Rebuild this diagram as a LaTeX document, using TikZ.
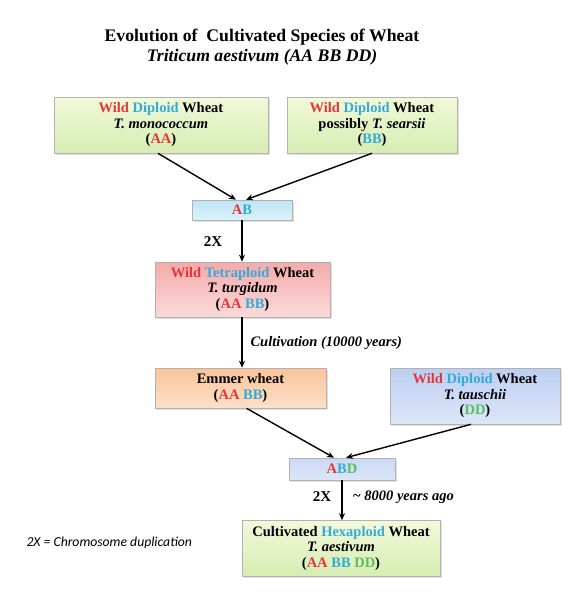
\documentclass[tikz,border=0pt]{standalone}
\usepackage{fontspec}
\setmainfont{Liberation Serif}
\newfontfamily\notefont{Carlito}
\usepackage{tikz}
\usetikzlibrary{arrows.meta,positioning,shadows}

\definecolor{wred}{HTML}{E4373B}
\definecolor{wblue}{HTML}{36AAD6}
\definecolor{wgreen}{HTML}{5CBE5C}
\definecolor{greentop}{HTML}{F2F9DA}
\definecolor{greenbot}{HTML}{D6EDB2}
\definecolor{pinktop}{HTML}{F4AAAA}
\definecolor{pinkbot}{HTML}{FBDADA}
\definecolor{orangetop}{HTML}{F8C49A}
\definecolor{orangebot}{HTML}{FCE0C8}
\definecolor{bluetop}{HTML}{BCCFF2}
\definecolor{bluebot}{HTML}{DCE6F8}
\definecolor{skytop}{HTML}{BCE6F6}
\definecolor{skybot}{HTML}{DDF2FA}
\newcommand{\rd}[1]{\textcolor{wred}{#1}}
\newcommand{\bl}[1]{\textcolor{wblue}{#1}}
\newcommand{\gn}[1]{\textcolor{wgreen}{#1}}

\tikzset{
  wheatbox/.style={draw=black!30, line width=0.6pt, align=center, inner sep=0pt,
    font=\fontsize{14.5}{15.5}\selectfont\bfseries,
    drop shadow={shadow xshift=1.5pt, shadow yshift=-1.5pt, opacity=0.25}},
  greenbox/.style={wheatbox, top color=greentop, bottom color=greenbot},
  pinkbox/.style={wheatbox, top color=pinktop, bottom color=pinkbot},
  orangebox/.style={wheatbox, top color=orangetop, bottom color=orangebot},
  bluebox/.style={wheatbox, top color=bluetop, bottom color=bluebot},
  skybox/.style={wheatbox, top color=skytop, bottom color=skybot},
  genome/.style={wheatbox, top color=bluetop!80, bottom color=bluebot},
  link/.style={-{Stealth[length=7pt,width=6pt]}, line width=1.4pt},
  tag/.style={font=\fontsize{15}{17}\selectfont\bfseries},
  remark/.style={anchor=west, font=\fontsize{14.5}{17}\selectfont\bfseries\itshape},
}

\begin{document}
\begin{tikzpicture}[x=1pt,y=-1pt]
    \useasboundingbox (0,0) rectangle (577,602);

    % title
    \node[font=\fontsize{17.7}{20}\selectfont\bfseries] (title) at (262,37) {Evolution of \ Cultivated Species of Wheat};
    \node[font=\fontsize{17.7}{20}\selectfont\bfseries\itshape] (subtitle) at (262,57) {Triticum aestivum (AA BB DD)};

    % wild parents
    \node[greenbox, minimum width=214, minimum height=56] (mono) at (161,125)
        {\rd{Wild} \bl{Diploid} Wheat\\ \textit{T. monococcum}\\ (\rd{AA})};
    \node[greenbox, minimum width=170, minimum height=56] (sears) at (372,125)
        {\rd{Wild} \bl{Diploid} Wheat\\ possibly \textit{T. searsii}\\ (\bl{BB})};

    \node[skybox, minimum width=100, minimum height=20] (ab) at (242,210) {\rd{A}\bl{B}};

    \node[pinkbox, minimum width=175, minimum height=55] (turg) at (242.5,289.5)
        {\rd{Wild} \bl{Tetraploid} Wheat\\ \textit{T. turgidum}\\ (\rd{AA} \bl{BB})};

    \node[orangebox, minimum width=171, minimum height=40] (emmer) at (240.5,388)
        {Emmer wheat\\ (\rd{AA} \bl{BB})};
    \node[bluebox, minimum width=170, minimum height=56] (tausch) at (475,396)
        {\rd{Wild} \bl{Diploid} Wheat\\ \textit{T. tauschii}\\ (\gn{DD})};

    \node[genome, minimum width=106, minimum height=22] (abd) at (342,469) {\rd{A}\bl{B}\gn{D}};

    \node[greenbox, minimum width=198, minimum height=56] (aest) at (341,548.5)
        {Cultivated \bl{Hexaploid} Wheat\\ \textit{T. aestivum}\\ (\rd{AA} \bl{BB} \gn{DD})};

    % arrows
    \draw[link] ([xshift=-3pt]mono.south) -- ([xshift=-6pt]ab.north);
    \draw[link] (sears.south) -- ([xshift=4pt]ab.north);
    \draw[link] (ab.south) -- (ab.south |- turg.north);
    \draw[link] (turg.south -| ab.south) -- (ab.south |- emmer.north);
    \draw[link] ([xshift=6pt]emmer.south) -- ([xshift=-8pt]abd.north);
    \draw[link] ([xshift=-4pt]tausch.south) -- ([xshift=4pt]abd.north);
    \draw[link] (abd.south) -- (abd.south |- aest.north);

    % labels
    \node[tag] (dup1) at (213,242) {2X};
    \node[remark] (cult) at (247,343) {Cultivation (10000 years)};
    \node[tag] (dup2) at (322,497) {2X};
    \node[remark] (ago) at (349,497) {\textasciitilde\ 8000 years ago};
    \node[anchor=west, font=\notefont\fontsize{13.7}{16}\selectfont\itshape] (note) at (23,543) {2X = Chromosome duplication};
\end{tikzpicture}
\end{document}
